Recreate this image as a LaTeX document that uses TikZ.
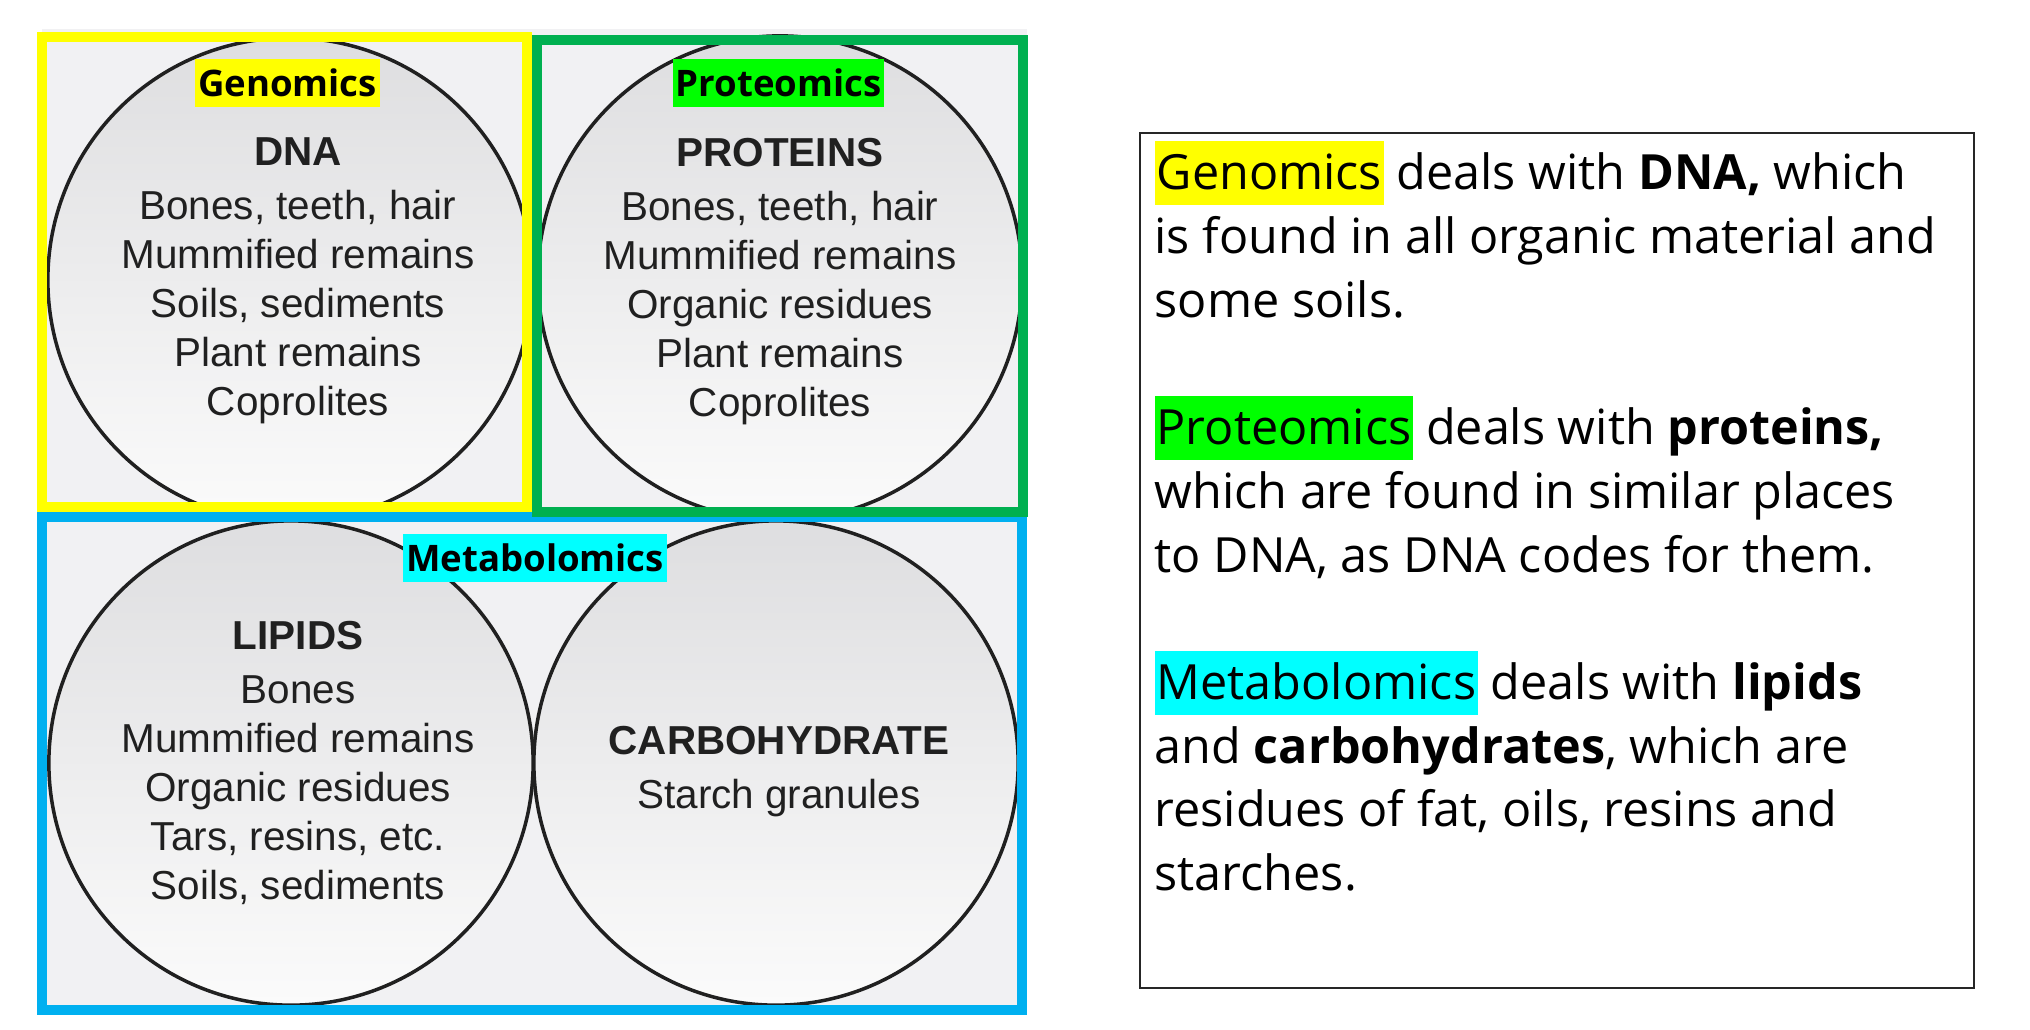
\documentclass[tikz,border=0pt]{standalone}
\usepackage{fontspec}
\setmainfont{Liberation Sans}
\newfontfamily\notefont{Open Sans}
\usetikzlibrary{positioning}
\definecolor{genyellow}{HTML}{FFFF00}
\definecolor{protgreen}{HTML}{00FF00}
\definecolor{metcyan}{HTML}{00FFFF}
\definecolor{boxgreen}{HTML}{00B050}
\definecolor{boxblue}{HTML}{00B0F0}
\definecolor{panelgray}{HTML}{F1F1F3}
\definecolor{omictop}{HTML}{DEDEE0}
\definecolor{omicbottom}{HTML}{FBFBFB}
\definecolor{inkgray}{HTML}{202020}
\newcommand{\hilite}[2]{{\setlength{\fboxsep}{0pt}%
  \colorbox{#1}{\rule[-0.15cm]{0pt}{0.64cm}\kern0.02cm#2\kern0.02cm}}}
\tikzset{omic/.style={circle, draw=inkgray, line width=0.035cm,
           minimum size=4.84cm, inner sep=0pt,
           top color=omictop, bottom color=omicbottom},
         omictext/.style={anchor=north, align=center, inner sep=0pt,
           text=inkgray, font=\fontsize{11.5}{13.94}\selectfont},
         omiclabel/.style={inner xsep=0.03cm, inner ysep=0pt,
           text height=0.37cm, text depth=0.11cm,
           font=\notefont\bfseries\fontsize{10.4}{12}\selectfont},
         frame/.style={line width=0.1cm}}

\begin{document}
\begin{tikzpicture}[x=0.01cm, y=-0.01cm]
	  \useasboundingbox (0,0) rectangle (2030,1029);
	  \fill[panelgray] (42,29) rectangle (1027,1010);
	  \begin{scope}
	    \clip (42,29) rectangle (1027,1010);
	    \node[omic] (dna)  at (290,280) {};
	    \node[omic] (prot) at (780,278) {};
	    \node[omic] (lip)  at (291,763) {};
	    \node[omic] (carb) at (776,763) {};
	  \end{scope}
	  \draw[frame, boxblue]   (42,517) rectangle (1022,1010);
	  \draw[frame, genyellow] (42,37)  rectangle (527,507);
	  \draw[frame, boxgreen]  (537,40) rectangle (1023,512);
	  % circle contents
	  \node[omictext] (dnatext) at (298,137)
	    {\textbf{DNA}\\[1.3pt] Bones, teeth, hair\\ Mummified remains\\
	     Soils, sediments\\ Plant remains\\ Coprolites};
	  \node[omictext] (prottext) at (780,138)
	    {\textbf{PROTEINS}\\[1.3pt] Bones, teeth, hair\\ Mummified remains\\
	     Organic residues\\ Plant remains\\ Coprolites};
	  \node[omictext] (liptext) at (298,621)
	    {\textbf{LIPIDS}\\[1.3pt] Bones\\ Mummified remains\\
	     Organic residues\\ Tars, resins, etc.\\ Soils, sediments};
	  \node[omictext] (carbtext) at (779,726)
	    {\textbf{CARBOHYDRATE}\\[1.3pt] Starch granules};
	  % highlighted labels
	  \node[omiclabel, fill=genyellow] (genlabel)  at (287.5,83) {Genomics};
	  \node[omiclabel, fill=protgreen] (protlabel) at (778.5,83) {Proteomics};
	  \node[omiclabel, fill=metcyan]   (metlabel)  at (535,558) {Metabolomics};
	  % explanation box
	  \node[draw=black!85, line width=0.02cm, anchor=north west, inner sep=0pt,
	        minimum width=8.33cm, minimum height=8.54cm] (notes) at (1139,132) {};
	  \node[anchor=north west, align=left, inner sep=0pt,
	        font=\notefont\fontsize{13.8}{18.12}\selectfont] (notestext) at (1154,140)
	    {\hilite{genyellow}{Genomics} deals with \textbf{DNA,} which\\
	     is found in all organic material and\\
	     some soils.\\[18.12pt]
	     \hilite{protgreen}{Proteomics} deals with \textbf{proteins,}\\
	     which are found in similar places\\
	     to DNA, as DNA codes for them.\\[18.12pt]
	     \hilite{metcyan}{Metabolomics} deals with \textbf{lipids}\\
	     and \textbf{carbohydrates}, which are\\
	     residues of fat, oils, resins and\\
	     starches.};
\end{tikzpicture}
\end{document}
